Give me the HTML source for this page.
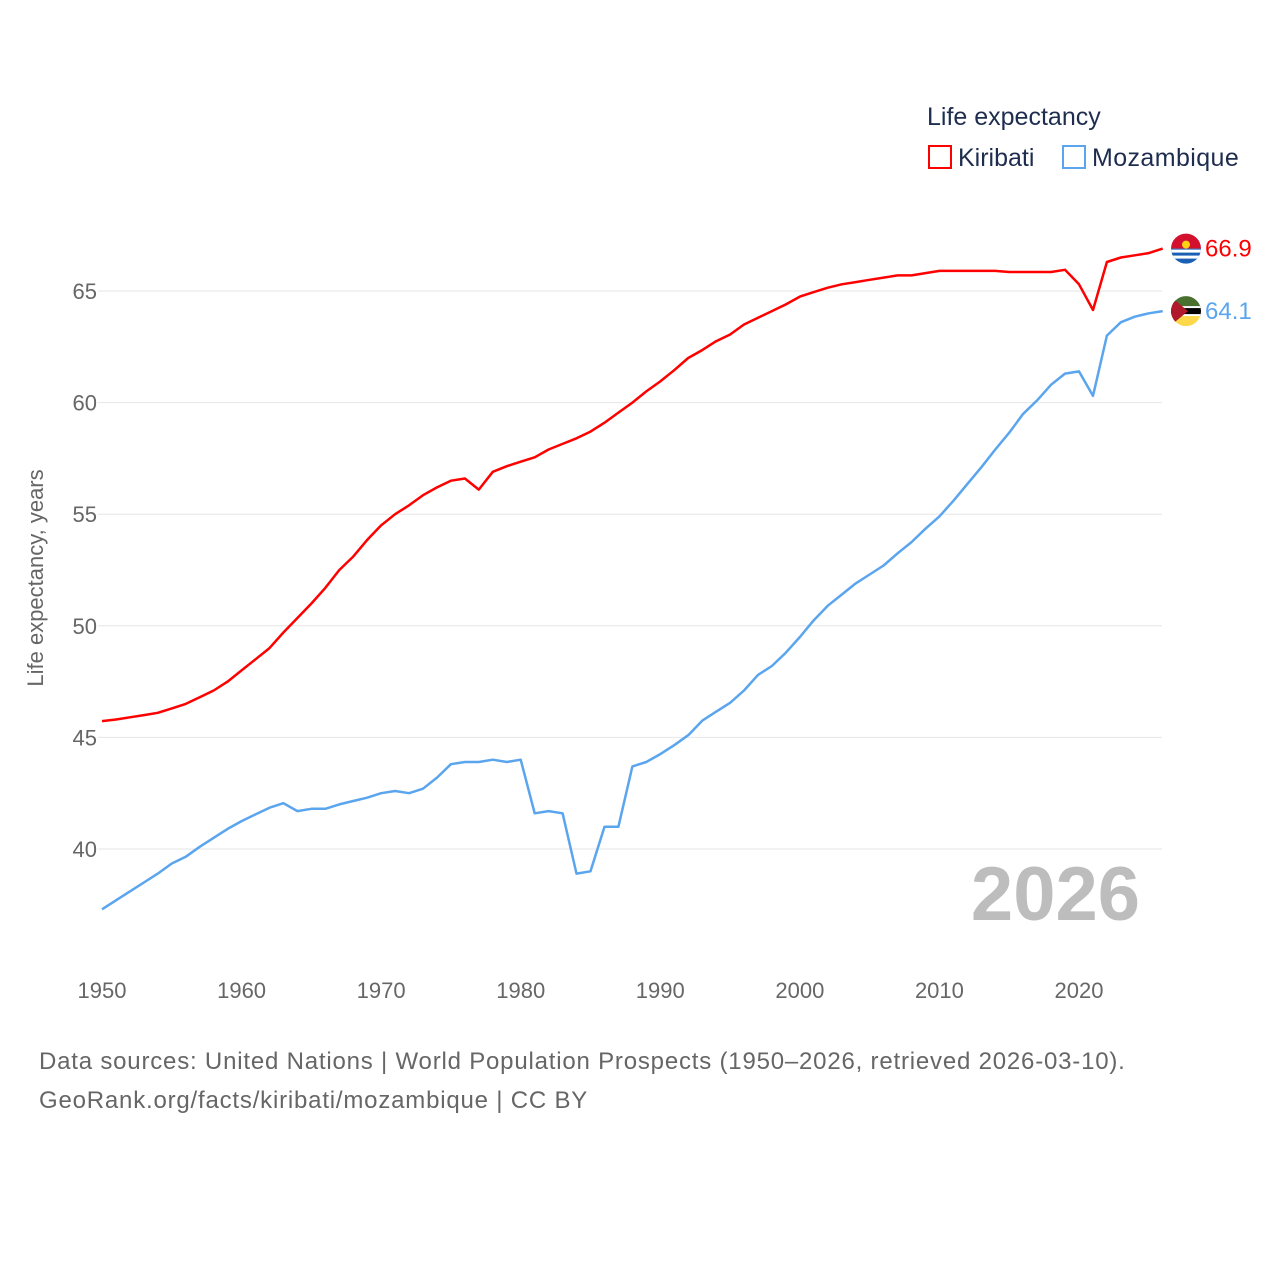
<!DOCTYPE html>
<html><head><meta charset="utf-8"><style>
body{margin:0;background:#fff;font-family:"Liberation Sans",sans-serif}
svg text{font-family:"Liberation Sans",sans-serif}
</style></head><body>
<svg id="chart" width="1280" height="1280" viewBox="0 0 1280 1280">
<g id="grid"></g><g id="yticks"></g><g id="xticks"></g><g id="lines"></g>
<text x="43" y="578" transform="rotate(-90 43 578)" text-anchor="middle" font-size="22" fill="#666">Life expectancy, years</text>
<text x="1140" y="920" text-anchor="end" font-size="76" font-weight="bold" fill="#bdbdbd">2026</text>
<text x="927" y="125" font-size="25" fill="#1e2d4f">Life expectancy</text>
<g><rect x="929" y="146" width="22" height="22" fill="none" stroke="#ff0000" stroke-width="2"/><text x="958" y="166" font-size="25" fill="#1e2d4f">Kiribati</text></g>
<g><rect x="1063" y="146" width="22" height="22" fill="none" stroke="#5aa5ee" stroke-width="2"/><text x="1092" y="166" font-size="25" fill="#1e2d4f" letter-spacing="0.4">Mozambique</text></g>
<text x="39" y="1069" font-size="24" fill="#666" letter-spacing="0.8">Data sources: United Nations | World Population Prospects (1950–2026, retrieved 2026-03-10).</text>
<text x="39" y="1108" font-size="24" fill="#666" letter-spacing="0.8">GeoRank.org/facts/kiribati/mozambique | CC BY</text>
</svg>
<script>
const years=[];for(let y=1950;y<=2026;y++)years.push(y);
const kiribati=[45.73,45.8,45.9,46.0,46.1,46.3,46.5,46.8,47.1,47.5,48.0,48.5,49.0,49.7,50.35,51.0,51.7,52.5,53.1,53.85,54.5,55.0,55.4,55.85,56.2,56.5,56.6,56.1,56.9,57.15,57.35,57.55,57.9,58.15,58.4,58.7,59.1,59.55,60.0,60.5,60.95,61.45,62.0,62.35,62.75,63.05,63.5,63.8,64.1,64.4,64.75,64.95,65.15,65.3,65.4,65.5,65.6,65.7,65.7,65.8,65.9,65.9,65.9,65.9,65.9,65.85,65.85,65.85,65.85,65.95,65.3,64.15,66.3,66.5,66.6,66.7,66.9];
const mozambique=[37.3,37.7,38.1,38.5,38.9,39.35,39.65,40.1,40.5,40.9,41.25,41.55,41.85,42.05,41.7,41.8,41.8,42.0,42.15,42.3,42.5,42.6,42.5,42.7,43.2,43.8,43.9,43.9,44.0,43.9,44.0,41.6,41.7,41.6,38.9,39.0,41.0,41.0,43.7,43.9,44.25,44.65,45.1,45.75,46.15,46.55,47.1,47.8,48.2,48.8,49.5,50.25,50.9,51.4,51.9,52.3,52.7,53.25,53.75,54.35,54.9,55.6,56.35,57.1,57.9,58.65,59.5,60.1,60.8,61.3,61.4,60.3,63.0,63.6,63.85,64.0,64.1];
const yTicks=[40,45,50,55,60,65];
const xTicks=[1950,1960,1970,1980,1990,2000,2010,2020];
const NS="http://www.w3.org/2000/svg";
const X=y=>102+(y-1950)*(977/70);
const Y=v=>291+(65-v)*22.32;
function mk(tag,attrs,parent){const e=document.createElementNS(NS,tag);for(const k in attrs)e.setAttribute(k,attrs[k]);parent.appendChild(e);return e;}
const grid=document.getElementById('grid'),yt=document.getElementById('yticks'),xt=document.getElementById('xticks'),lines=document.getElementById('lines');
yTicks.forEach(v=>{
 const l=mk('line',{x1:98,x2:1162,y1:Y(v),y2:Y(v),stroke:'#e6e6e6','stroke-width':1},grid);
 
 
 const t=mk('text',{x:97,y:Y(v)+8,'text-anchor':'end','font-size':22,fill:'#666'},yt);t.textContent=v;
 
 
});
xTicks.forEach(v=>{
 const t=mk('text',{x:X(v),y:998,'text-anchor':'middle','font-size':22,fill:'#666'},xt);t.textContent=v;
 
 
});
function series(vals,color,name){
 const d=vals.map((v,i)=>(i?'L':'M')+X(years[i]).toFixed(1)+' '+Y(v).toFixed(1)).join(' ');
 const p=mk('path',{d:d,fill:'none',stroke:color,'stroke-width':2.5,'stroke-linejoin':'round'},lines);
 
 
 const last=vals[vals.length-1];
 const t=mk('text',{x:1205,y:Y(last)+8,'font-size':24,fill:color},lines);t.textContent=last.toFixed(1);
 
 
 return Y(last);
}
const ky=series(kiribati,'#ff0000','kiribati');
const my=series(mozambique,'#5aa5ee','mozambique');
const fk=mk('g',{},lines);


const ck=mk('clipPath',{id:'ck'},fk);mk('circle',{cx:1186,cy:ky,r:15},ck);
const gk=mk('g',{'clip-path':'url(#ck)'},fk);
mk('rect',{x:1170,y:ky-16,width:32,height:16,fill:'#d4102f'},gk);
mk('rect',{x:1170,y:ky,width:32,height:16,fill:'#1b5fb4'},gk);
mk('rect',{x:1170,y:ky+1,width:32,height:3,fill:'#fff'},gk);
mk('rect',{x:1170,y:ky+7,width:32,height:3,fill:'#fff'},gk);
mk('circle',{cx:1186,cy:ky-4,r:4,fill:'#fcd116'},gk);
const fm=mk('g',{},lines);


const cm=mk('clipPath',{id:'cm'},fm);mk('circle',{cx:1186,cy:my,r:15},cm);
const gm=mk('g',{'clip-path':'url(#cm)'},fm);
mk('rect',{x:1170,y:my-16,width:32,height:11,fill:'#4a7030'},gm);
mk('rect',{x:1170,y:my-5,width:32,height:10,fill:'#000'},gm);
mk('rect',{x:1170,y:my-5,width:32,height:2,fill:'#fff'},gm);
mk('rect',{x:1170,y:my+3,width:32,height:2,fill:'#fff'},gm);
mk('rect',{x:1170,y:my+5,width:32,height:11,fill:'#fcd84a'},gm);
mk('path',{d:`M1170 ${my-15} L1188 ${my} L1170 ${my+15}Z`,fill:'#b0182b'},gm);
</script>
</body></html>
